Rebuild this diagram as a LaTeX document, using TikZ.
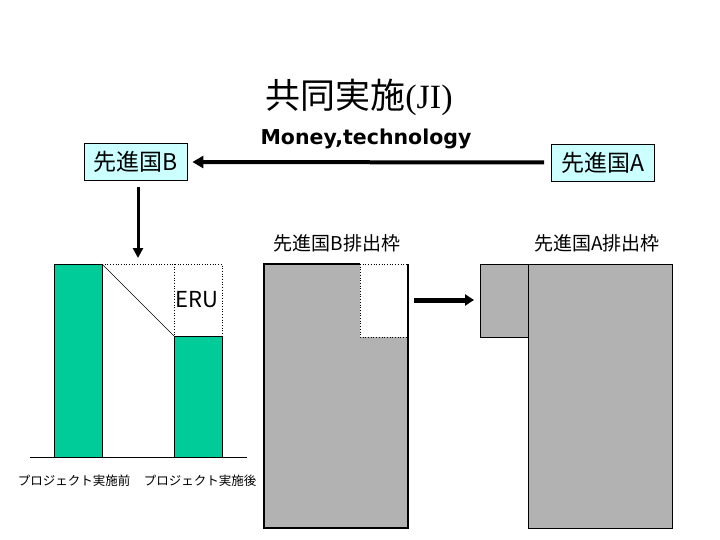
\documentclass[tikz,border=0pt]{standalone}
\usepackage{fontspec}
\setmainfont{Liberation Serif}
\newfontfamily\jp{Noto Sans CJK JP}
\newfontfamily\vb{DejaVu Sans}
\usetikzlibrary{arrows.meta}
\definecolor{barg}{HTML}{00CC99}
\definecolor{boxc}{HTML}{CCFFFF}
\definecolor{grayf}{HTML}{B2B2B2}
\begin{document}
\begin{tikzpicture}[x=1pt,y=-1pt,
  country/.style={draw=black,line width=0.8pt,fill=boxc,minimum width=103pt,minimum height=37pt,inner sep=0pt,font=\jp\fontsize{23}{23}\selectfont},
  lbl/.style={inner sep=0pt,font=\jp\fontsize{19}{19}\selectfont},
  small/.style={inner sep=0pt,font=\jp\fontsize{12.5}{12.5}\selectfont},
  bar/.style={fill=barg,draw=black,line width=0.4pt},
  quota/.style={fill=grayf,draw=black,line width=1.2pt},
  dots/.style={dotted,line width=0.7pt},
  bigarrow/.style={line width=4pt,-{Triangle[length=11pt,width=12pt]}}
]
\useasboundingbox[fill=white] (0,0) rectangle (720,540);
% title
\node[inner sep=0pt] (title) at (359,97) {{\jp\fontsize{35}{35}\selectfont 共同実施}{\fontsize{34}{34}\selectfont(JI)}};
\node[inner sep=0pt,font=\vb\bfseries\fontsize{20.5}{20.5}\selectfont] (money) at (366,139) {Money,technology};
% countries
\node[country] (B) at (135.5,162) {先進国B};
\node[country] (A) at (603,162.5) {先進国A};
\draw[bigarrow,shorten <=7pt,shorten >=5pt] (A.west) -- (B.east);
\coordinate (Bdown) at (138,258);
\draw[line width=3pt,-{Triangle[length=10pt,width=10pt]},shorten <=6pt] (B.south -| Bdown) -- (Bdown);
% left chart
\draw[bar] (54,264) rectangle (102,457);
\draw[bar] (174,336) rectangle (222,457);
\draw[dots] (102,264) -- (222,264) -- (222,336);
\draw[dots] (174,264) -- (174,336);
\draw[line width=0.6pt] (102,264) -- (174,336);
\draw[line width=1pt] (30,457) -- (247,457);
\node[inner sep=0pt,anchor=west,font=\jp\fontsize{22}{22}\selectfont] (eru) at (175,300) {ERU};
\node[small] (before) at (74,481) {プロジェクト実施前};
\node[small] (after) at (200,481) {プロジェクト実施後};
% quota labels
\node[lbl] (qB) at (337,243) {先進国B排出枠};
\node[lbl] (qA) at (597,243) {先進国A排出枠};
% left quota rect with notch
\fill[grayf] (264,264) -- (360,264) -- (360,337) -- (408,337) -- (408,528) -- (264,528) -- cycle;
\draw[line width=1.2pt] (360,264) -- (264,264) -- (264,528) -- (408,528) -- (408,264);
\draw[dots] (360,264) -- (408,264);
\draw[dots] (360,264) -- (360,337) -- (408,337);
% right quota rects
\node[quota,minimum width=144pt,minimum height=264pt,inner sep=0pt,anchor=north west] (bigA) at (528,264) {};
\node[quota,minimum width=48pt,minimum height=73pt,inner sep=0pt,anchor=north west] (smallA) at (480,264) {};
\coordinate (notch) at (408,300);
\draw[line width=5pt,-{Triangle[length=9pt,width=11pt]},shorten <=6pt,shorten >=6pt] (notch) -- (smallA.west |- notch);
\end{tikzpicture}
\end{document}
